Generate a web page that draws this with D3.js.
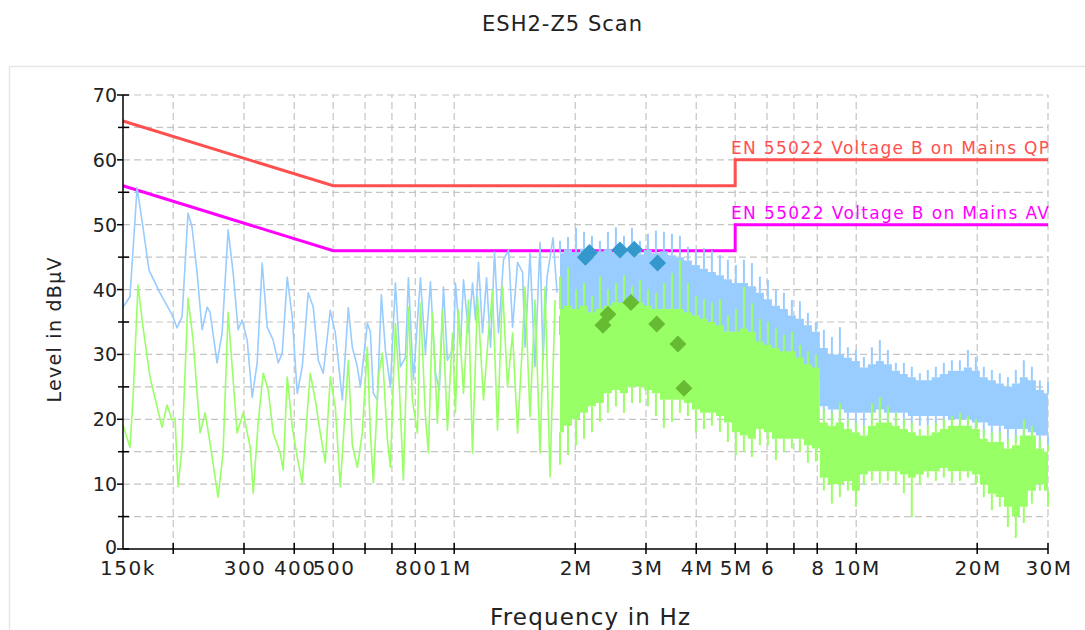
<!DOCTYPE html>
<html><head><meta charset="utf-8">
<script src="https://cdn.jsdelivr.net/npm/d3@7"></script>
<style>body{margin:0;background:#fff}svg{display:block}text{font-family:"DejaVu Sans",sans-serif}</style>
</head><body><svg id="c" width="1085" height="630"></svg>
<script>
// ---------------- data ----------------
const xTickValues = [0.15,0.3,0.4,0.5,0.8,1,2,3,4,5,6,8,10,20,30];
const xTickLabels = ["150k","300","400","500","800","1M","2M","3M","4M","5M","6","8","10M","20M","30M"];
const xGridTicks = [0.2,0.3,0.4,0.5,0.6,0.7,0.8,1,2,3,4,5,6,7,8,10,20,30];
const yMajorTicks = [0,10,20,30,40,50,60,70];
const yMinorTicks = [5,15,25,35,45,55,65];
const yGridTicks = [5,10,15,20,25,30,35,40,45,50,55,60,65,70];

const qpLimitF = [0.15,0.5,5,5,30];
const qpLimitL = [66,56,56,60,60];
const avLimitF = [0.15,0.5,5,5,30];
const avLimitL = [56,46,46,50,50];

const qpSweepF = [0.150,0.1561,0.1626,0.1682,0.1741,0.1854,0.1987,0.2044,0.2104,0.2177,0.2228,0.2293,0.2360,0.2429,0.2470,0.2571,0.2646,0.2739,0.2819,0.2900,0.2968,0.3055,0.3144,0.3235,0.3329,0.3426,0.3545,0.3649,0.3734,0.3843,0.3954,0.4069,0.4188,0.4334,0.4460,0.4590,0.4723,0.4917,0.5061,0.5268,0.5452,0.5579,0.5742,0.5841,0.6081,0.6186,0.6293,0.6440,0.6589,0.6742,0.6938,0.7140,0.7347,0.7561,0.7692,0.7916,0.8241,0.8480,0.8727,0.8981,0.9188,0.9402,0.9620,0.9958,1.0073,1.0366,1.0546,1.0853,1.1106,1.1298,1.1493,1.1761,1.2034,1.2313,1.2599,1.2891,1.3265,1.3652,1.3970,1.4376,1.4793,1.5000,1.5437,1.5886,1.6348,1.6631,1.7018,1.7613,1.8022];
const qpSweepL = [37.3,38.9,55.7,49.6,43.0,39.5,36.1,34.1,35.8,51.8,49.6,42.6,33.8,37.3,36.5,28.7,33.3,49.2,42.6,33.8,35.3,32.2,23.4,28.7,44.1,34.2,32.2,28.7,30.2,41.9,35.8,24.0,28.1,39.5,37.3,29.1,27.1,36.8,33.3,23.0,37.2,31.1,28.1,25.0,34.8,33.5,24.0,23.0,39.2,30.7,25.0,41.0,28.1,29.5,41.8,26.1,41.8,30.2,41.2,27.1,24.5,40.4,29.1,31.0,41.0,31.1,41.5,33.3,41.0,35.3,44.2,33.3,41.8,31.1,45.8,33.3,44.6,46.1,34.2,44.2,42.7,31.1,45.6,28.1,47.3,29.1,41.9,48.0,39.5];

const avSweepF = [0.150,0.1561,0.1588,0.1635,0.1682,0.1751,0.1875,0.1930,0.1987,0.2021,0.2056,0.2104,0.2177,0.2241,0.2333,0.2401,0.2470,0.2586,0.2661,0.2739,0.2803,0.2884,0.2985,0.3108,0.3162,0.3253,0.3348,0.3446,0.3545,0.3691,0.3755,0.3843,0.3954,0.4069,0.4188,0.4309,0.4384,0.4512,0.4643,0.4778,0.4917,0.5061,0.5208,0.5452,0.5579,0.5742,0.5906,0.6080,0.6186,0.6293,0.6476,0.6626,0.6820,0.6938,0.7140,0.7305,0.7474,0.7692,0.7871,0.8100,0.8241,0.8480,0.8627,0.8827,0.9084,0.9348,0.9620,0.9901,1.0073,1.0247,1.0545,1.0853,1.1104,1.1428,1.1827,1.2172,1.2455,1.2817,1.3190,1.3573,1.3969,1.4376,1.4793,1.5000,1.5437,1.5886,1.6348,1.6824,1.7313,1.7817];
const avSweepL = [19.1,15.7,23.0,40.7,34.2,26.5,18.8,22.2,19.9,20.2,9.6,15.7,38.7,32.2,17.9,21.0,16.3,8.0,14.8,36.5,28.1,17.9,21.0,15.7,8.6,19.4,27.1,24.5,17.9,14.8,12.2,26.5,18.8,14.2,10.2,21.0,27.1,23.0,17.9,13.3,26.5,21.9,9.6,29.1,16.0,12.6,17.9,31.1,17.9,10.2,26.5,30.2,16.8,12.6,34.8,25.0,10.6,37.3,23.0,17.9,37.9,20.4,14.8,36.4,19.4,36.8,18.3,33.3,21.0,36.8,24.0,38.4,14.8,38.9,23.0,33.3,39.9,18.3,40.4,25.0,33.3,17.9,32.0,40.4,20.4,38.4,14.8,40.4,11.1,38.4];

// dense part of the sweep: spike tip, band top, band bottom, dip
const bandF = [1.833,1.919,2.009,2.103,2.201,2.304,2.412,2.525,2.644,2.768,2.897,3.033,3.175,3.324,3.480,3.643,3.814,3.992,4.180,4.375,4.581,4.795,5.020,5.256,5.502,5.760,6.030,6.313,6.608,6.918,7.243,7.582,7.937,8.309,8.699,9.107,9.534,9.981,10.45,10.94,11.45,11.99,12.55,13.14,13.75,14.40,15.07,15.78,16.52,17.30,18.11,18.96,19.84,20.77,21.75,22.77,23.84,24.95,26.12,27.35,28.63,30.0];
const qpPeak = [47.5,48.1,49.5,48.9,48.3,47.5,48.9,49.6,48.3,49.5,47.5,48.6,49.1,48.9,48.6,48.3,46.6,46.2,46.4,46.0,45.3,44.6,43.8,44.6,44.1,42.0,41.5,39.9,39.5,38.4,38.2,36.4,35.0,33.8,32.7,34.2,31.1,30.7,29.6,31.1,32.2,30.7,28.7,28.7,28.1,27.1,27.6,28.1,28.7,29.1,29.1,30.7,29.6,28.1,27.6,27.1,26.5,27.6,29.1,28.1,26.0,25.8];
const qpTop = [45.6,46.2,45.8,46.3,45.5,45.9,46.2,45.7,46.3,45.8,45.4,46.1,45.6,45.9,45.3,45.0,44.5,43.8,43.2,42.7,42.2,41.6,41.0,41.0,40.5,39.5,38.5,37.5,37.0,36.0,35.5,34.5,33.5,31.0,30.0,30.0,29.5,29.0,28.0,28.5,29.0,28.5,27.5,27.0,26.5,26.0,26.0,26.5,27.0,27.5,27.5,28.0,27.5,26.5,26.0,25.5,25.0,25.5,26.5,26.0,24.5,24.0];
const qpBot = [36,36,36,36,36,36,36,36,36,36,36,36,36,36,36,36,35,35,35,34,34,33.5,33,29,28.5,28,27.5,27.5,27,27,26.5,26.5,26,22,21.5,21.5,21,21,21,21,21.5,21,21,21,20.5,20.5,20.5,20.5,20.5,20,20,20,19.5,19.5,19,19,18.5,18.5,18.5,18,17.5,17.5];
const qpDip = [33,33,33,33,33,33,33,33,33,33,33,33,33,33,33,33,33,33,32,32,32,31,31,26,26,26,25.5,25,25,25,24.5,24.5,24,20,19.5,19,19,18.5,19,19.5,19.5,19.5,19.5,19,19,19,19,19,19,18.5,18,18,17.5,17.5,17,17,16.5,16.5,16,15.5,15.5,15.5];
const avPeak = [42.0,43.4,40.0,41.0,39.0,42.0,40.0,41.0,42.2,40.5,41.5,40.0,39.5,41.0,42.5,44.5,41.0,39.0,38.5,38.0,38.5,36.0,37.0,40.4,37.9,35.5,35.0,34.0,33.0,33.5,31.5,30.5,30.0,21.5,21.0,22.5,20.0,19.5,19.0,22.5,23.4,22.0,21.0,20.0,19.5,18.5,19.0,19.5,20.0,20.5,21.0,20.5,20.0,18.5,18.0,18.0,17.0,17.5,20.0,19.0,17.0,16.0];
const avTop = [37.0,37.5,37.0,37.5,36.5,37.0,37.5,38.0,38.0,38.0,38.0,37.5,37.0,37.0,37.0,37.0,36.5,36.0,35.5,35.0,34.5,33.5,33.5,34.0,33.5,32.0,31.5,31.0,30.5,30.5,29.5,28.5,28.0,19.5,19.0,19.5,18.5,18.0,17.5,19.0,19.5,19.5,19.0,18.5,18.0,17.5,17.5,18.0,18.5,19.0,19.0,19.0,18.5,17.0,16.5,16.5,15.5,16.0,17.5,17.5,15.5,15.0];
const avBot = [18,19,20,21,22,22.5,24,24.5,24,25,25,24.5,24,23,23,23,22.5,21.5,21,21,20.5,19.5,18,17.5,17,18.5,18,17,17,17,17,16,15.5,11,10,10,10.5,9,11.5,12,12,12,12,11.5,11,11.5,12,12,12.5,12,12,12,11.5,10,8.5,8,6.5,5,6.5,9,10,9];
const avDip = [13,14.5,16,17,18,19.6,21,22,21,22.5,22.5,22,20.5,18.7,19.6,21,20.5,18,18.5,19,18,16.5,14.5,15,14.2,16,16,13.7,15,15.5,15,13.3,13.5,9,7,8,9,6.5,10,10.5,10,10.5,10,8.6,4.9,10,11,10.5,11,10.2,10.5,11,10,8,6,6.5,3.4,1.7,4,7,9,6.5];

const qpMarkF = [2.12,2.17,2.584,2.805,3.205];
const qpMarkL = [45.0,45.7,46.1,46.2,44.1];
const avMarkF = [2.344,2.412,2.752,3.19,3.602,3.728];
const avMarkL = [34.5,36.2,38.0,34.7,31.6,24.8];

const qpLimitName = "EN 55022 Voltage B on Mains QP";
const avLimitName = "EN 55022 Voltage B on Mains AV";

// ---------------- drawing ----------------
const svg = d3.select("#c");
const x = d3.scaleLog().domain([0.15,30]).range([123,1048]);
const y = d3.scaleLinear().domain([0,70]).range([549,95]);

const C = {qp:"#99ccff", av:"#99ff66", qpLim:"#ff5050", avLim:"#ff00ff", qpMark:"#3399cc", avMark:"#66bb33"};

// panel frame
svg.append("rect").attr("x",9.5).attr("y",66.5).attr("width",1100).attr("height",600)
  .attr("fill","none").attr("stroke","#e6e6e6").attr("stroke-width",1.5);

// title
svg.append("text").attr("x",562).attr("y",31).attr("text-anchor","middle")
  .attr("font-size",21).attr("fill","#222").attr("textLength",160).attr("lengthAdjust","spacing").text("ESH2-Z5 Scan");

// grid
const g = svg.append("g").attr("stroke","#c4c4c4").attr("stroke-width",1.2).attr("stroke-dasharray","7,4").attr("fill","none");
yGridTicks.forEach(v => g.append("line").attr("x1",x(0.15)).attr("x2",x(30)).attr("y1",y(v)).attr("y2",y(v)));
xGridTicks.forEach(v => g.append("line").attr("x1",x(v)).attr("x2",x(v)).attr("y1",y(0)).attr("y2",y(70)));

const line = d3.line().x(d => x(d[0])).y(d => y(d[1]));

// limit lines
svg.append("path").attr("d", line(d3.zip(qpLimitF,qpLimitL))).attr("fill","none").attr("stroke",C.qpLim).attr("stroke-width",3);
svg.append("path").attr("d", line(d3.zip(avLimitF,avLimitL))).attr("fill","none").attr("stroke",C.avLim).attr("stroke-width",3);

function drawSweep(F, L, peak, top, bot, dip, color) {
  const grp = svg.append("g");
  const band = d3.area().curve(d3.curveStep).x(d => x(d.f)).y0(d => y(d.bot)).y1(d => y(d.top));
  const rows = bandF.map((f,i) => ({f, peak:peak[i], top:top[i], bot:bot[i], dip:dip[i]}));
  grp.append("path").attr("d", band(rows)).attr("fill", color);
  rows.forEach(r => {
    grp.append("line").attr("x1",x(r.f)).attr("x2",x(r.f)).attr("y1",y(r.top)).attr("y2",y(r.peak)).attr("stroke",color).attr("stroke-width",2);
    grp.append("line").attr("x1",x(r.f)).attr("x2",x(r.f)).attr("y1",y(r.bot)).attr("y2",y(r.dip)).attr("stroke",color).attr("stroke-width",2);
  });
  grp.append("path").attr("d", line(d3.zip(F,L))).attr("fill","none").attr("stroke",color)
    .attr("stroke-width",1.6).attr("stroke-linejoin","round");
}
drawSweep(qpSweepF, qpSweepL, qpPeak, qpTop, qpBot, qpDip, C.qp);
drawSweep(avSweepF, avSweepL, avPeak, avTop, avBot, avDip, C.av);

// final measurement diamonds
function diamonds(F, L, color) {
  svg.append("g").selectAll("path").data(d3.zip(F,L)).join("path")
    .attr("d", d => { const cx = x(d[0]), cy = y(d[1]), r = 8.5;
      return `M${cx},${cy-r}L${cx+r},${cy}L${cx},${cy+r}L${cx-r},${cy}Z`; })
    .attr("fill", color);
}
diamonds(qpMarkF, qpMarkL, C.qpMark);
diamonds(avMarkF, avMarkL, C.avMark);

// limit labels
svg.append("text").attr("x",1049).attr("y",154).attr("text-anchor","end").attr("font-size",17)
  .attr("fill",C.qpLim).attr("textLength",318).attr("lengthAdjust","spacing").text(qpLimitName);
svg.append("text").attr("x",1049).attr("y",219).attr("text-anchor","end").attr("font-size",17)
  .attr("fill",C.avLim).attr("textLength",318).attr("lengthAdjust","spacing").text(avLimitName);

// axes
const ax = svg.append("g").attr("stroke","#000").attr("stroke-width",1.5);
ax.append("line").attr("x1",x(0.15)).attr("x2",x(0.15)).attr("y1",y(70)).attr("y2",y(0));
ax.append("line").attr("x1",x(0.15)).attr("x2",x(30)).attr("y1",y(0)).attr("y2",y(0));
yMajorTicks.forEach(v => ax.append("line").attr("x1",x(0.15)-6).attr("x2",x(0.15) + ((v===0||v===70)?6:0)).attr("y1",y(v)).attr("y2",y(v)));
yMinorTicks.forEach(v => ax.append("line").attr("x1",x(0.15)-5).attr("x2",x(0.15)+6).attr("y1",y(v)).attr("y2",y(v)));
xGridTicks.forEach(v => ax.append("line").attr("x1",x(v)).attr("x2",x(v)).attr("y1",y(0)-6).attr("y2",y(0)+5));

svg.append("g").selectAll("text").data(yMajorTicks).join("text")
  .attr("x",117).attr("y",v => y(v) + (v === 0 ? 5 : 7)).attr("text-anchor","end").attr("font-size",19).attr("fill","#222").text(v => v);
svg.append("g").selectAll("text").data(xTickValues).join("text")
  .attr("x",(v,i) => x(v) + (i === 0 ? 5 : 1)).attr("y",575).attr("text-anchor","middle").attr("font-size",20)
  .attr("letter-spacing",1.5).attr("fill","#222").text((v,i) => xTickLabels[i]);

svg.append("text").attr("transform","translate(61,330) rotate(-90)").attr("text-anchor","middle")
  .attr("font-size",19).attr("fill","#222").attr("textLength",145).attr("lengthAdjust","spacing").text("Level in dBµV");
svg.append("text").attr("x",590).attr("y",625).attr("text-anchor","middle")
  .attr("font-size",23).attr("fill","#222").attr("textLength",200).attr("lengthAdjust","spacing").text("Frequency in Hz");
</script></body></html>
